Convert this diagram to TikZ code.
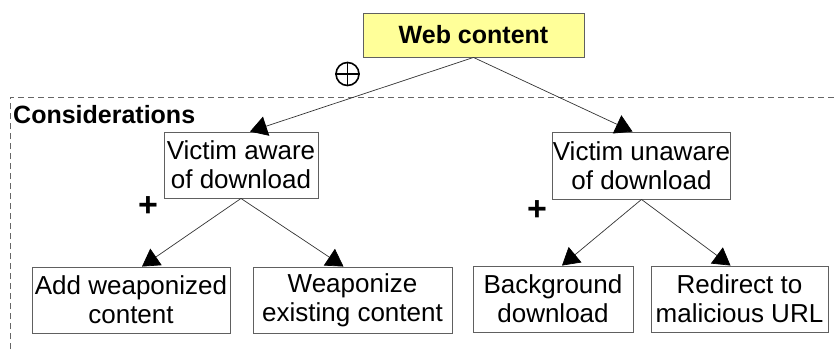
\documentclass[tikz,border=0pt]{standalone}
\usepackage{fontspec}
\setmainfont{Liberation Sans}
\usetikzlibrary{arrows.meta,calc}
\definecolor{boxline}{HTML}{606060}
\definecolor{rootfill}{HTML}{FFFF99}
\tikzset{
  tbox/.style={draw=boxline, line width=0.9pt, fill=white, align=center,
    font=\fontsize{26}{29}\selectfont, inner sep=0pt},
  edge/.style={draw=black!80, line width=0.7pt,
    -{Triangle[length=17pt,width=20pt,color=black]}},
  lbl/.style={font=\fontsize{25}{29}\selectfont\bfseries, inner sep=0pt},
}
\begin{document}
\begin{tikzpicture}[x=1pt,y=-1pt]
\useasboundingbox (0,0) rectangle (836,349);

% dashed frame of the considerations area
\draw[draw=black!60, line width=0.8pt, dash pattern=on 6pt off 4pt]
  (10,349) -- (10,97) -- (836,97);
\node[lbl, anchor=west] (cons) at (13,115) {Considerations};

% boxes
\node[tbox, fill=rootfill, minimum width=221, minimum height=44, font=\fontsize{25}{29}\selectfont\bfseries]
  (root) at (473.5,35) {Web content};
\node[tbox, minimum width=154, minimum height=66] (aware) at (241,165) {Victim aware\\of download};
\node[tbox, minimum width=177, minimum height=67] (unaware) at (641.5,165.5) {Victim unaware\\of download};
\node[tbox, minimum width=198, minimum height=66] (add) at (131,300) {Add weaponized\\content};
\node[tbox, minimum width=199, minimum height=66] (exist) at (352.5,300) {Weaponize\\existing content};
\node[tbox, minimum width=160, minimum height=66] (bg) at (553,299) {Background\\download};
\node[tbox, minimum width=177, minimum height=66] (redir) at (739.5,299) {Redirect to\\malicious URL};

% connectors
\draw[edge] (root.south) -- ($(aware.north)+(9,0)$);
\draw[edge] (root.south) -- ($(unaware.north)+(-9,0)$);
\draw[edge] (aware.south) -- ($(add.north)+(11,0)$);
\draw[edge] (aware.south) -- ($(exist.north)+(-9,0)$);
\draw[edge] (unaware.south) -- ($(bg.north)+(9,0)$);
\draw[edge] (unaware.south) -- ($(redir.north)+(-9,0)$);

% operator marks
\node[circle, draw=black, line width=1.6pt, minimum size=23, inner sep=0pt] (xor) at (347.5,74) {};
\draw[line width=1.6pt] (xor.north) -- (xor.south) (xor.west) -- (xor.east);
\node[lbl, font=\fontsize{34}{34}\selectfont\bfseries] (plusA) at (148,207) {+};
\node[lbl, font=\fontsize{34}{34}\selectfont\bfseries] (plusB) at (537,211) {+};
\end{tikzpicture}
\end{document}
